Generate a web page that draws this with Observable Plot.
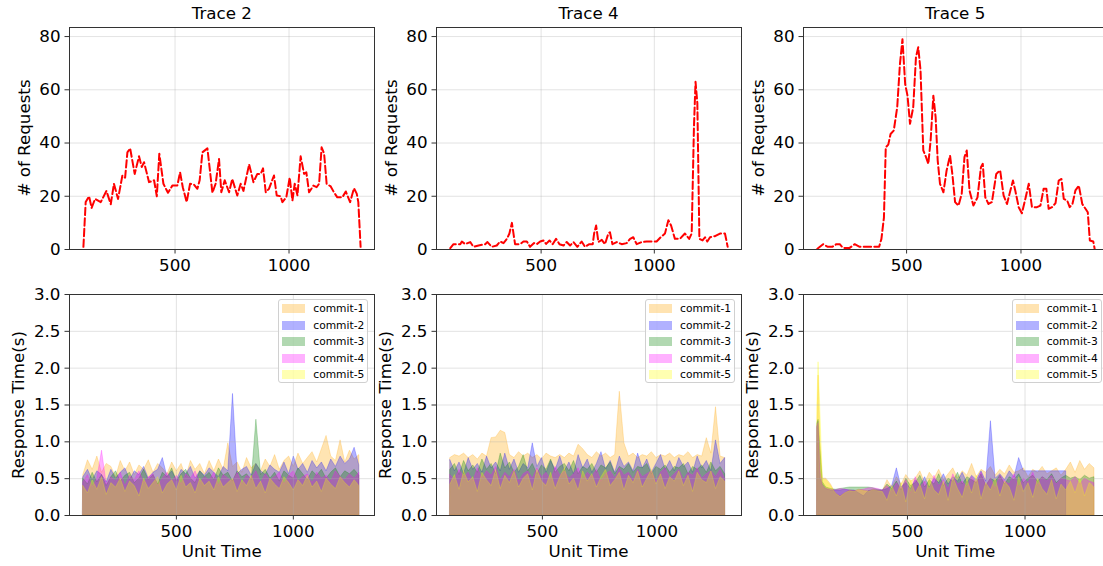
<!DOCTYPE html>
<html><head><meta charset="utf-8">
<script src="https://cdn.jsdelivr.net/npm/d3@7"></script>
<script src="https://cdn.jsdelivr.net/npm/@observablehq/plot@0.6"></script>
<style>
html,body{margin:0;padding:0;background:#fff;overflow:hidden;}
#root{position:relative;width:1103px;height:566px;overflow:hidden;font-family:"DejaVu Sans",sans-serif;color:#000;}
.title,.xlabel{position:absolute;width:240px;text-align:center;font-size:16.7px;line-height:16.7px;white-space:nowrap;}
.ylabel{position:absolute;font-size:16.7px;line-height:16.7px;white-space:nowrap;transform:translate(-50%,-50%) rotate(-90deg);}
.legend{position:absolute;width:90px;height:84px;background:rgba(255,255,255,0.8);border:1px solid #d0d0d0;border-radius:3px;box-sizing:border-box;font-size:10.7px;}
.legend .row{position:absolute;left:0;height:12px;line-height:12px;white-space:nowrap;}
.legend .sw{position:absolute;left:4px;top:2px;width:21px;height:7px;}
.legend .lb{position:absolute;left:34px;top:0;}
</style>
</head><body><div id="root"></div>
<script>
// ---------- data ----------
const traceTitles = ["Trace 2", "Trace 4", "Trace 5"];
const commitNames = ["commit-1", "commit-2", "commit-3", "commit-4", "commit-5"];
const commitColors = ["orange", "blue", "green", "magenta", "yellow"];
const requestTicks = [0, 20, 40, 60, 80];
const responseTicks = [0, 0.5, 1.0, 1.5, 2.0, 2.5, 3.0];
const timeTicks = [500, 1000];

// # of requests (top row)
const trace2X = [98,108,123,134,149,174,199,218,232,250,269,281,291,303,323,342,354,364,386,408,420,431,449,469,488,510,522,534,551,566,583,598,608,620,642,664,678,693,703,718,737,751,773,788,800,825,844,861,876,886,898,912,934,946,963,971,988,1003,1015,1025,1037,1051,1066,1076,1088,1107,1121,1132,1143,1154,1165,1183,1197,1212,1234,1249,1268,1285,1297,1304,1314];
const trace2Req = [1,17.8,20,15.6,19,17.8,22,17,24.7,19,27.8,27,36.5,38,28.4,35,31,32.8,25.3,26,20,36,24.7,21.3,24,24,29,23.4,17.8,24.7,24.4,22.8,26,36.5,38,21.3,24.7,34,21.5,26,21.5,26.5,20.3,24.7,22,32,25.3,28.4,28.4,30.5,21.5,22.8,27.8,20.3,20,17.8,19.6,27,18.4,24.7,20.3,35,28.4,29,21.5,24,23.4,24.7,38.4,36,24.7,23.7,21.5,19.6,19.6,21.8,17.8,23,21,17.8,1];

const trace4X = [99,113,143,150,165,187,201,224,253,263,282,304,319,334,349,360,371,385,407,422,437,451,469,481,496,510,522,537,551,566,581,599,613,628,643,660,679,694,713,728,734,743,753,768,782,797,804,815,834,856,878,893,907,922,944,966,988,1010,1028,1047,1062,1074,1091,1113,1135,1154,1165,1175,1182,1190,1199,1213,1224,1234,1246,1268,1290,1312,1324];
const trace4Req = [0.5,2,2,3,2,2.8,1,1.5,2,2.8,1,1.5,3,2.4,4,6,10,2,2,3,3,1,2.4,2,3,3.4,2.1,3.4,2,4,2,1.5,2.8,1.5,2.8,1,3,1,2,2,6,9,2.8,3.6,2,6,6.5,2,2.8,2,2.4,4,4.6,2,2.8,3,3,3,4.6,6,11,9,4,4,6,4,6,46,63,55,4,3.4,4.6,3,4.6,5,6,6,1];

const trace5X = [110,135,156,175,193,208,222,251,273,295,325,354,380,390,401,409,420,430,444,459,471,482,494,504,515,529,541,551,561,573,585,595,605,617,627,636,646,661,675,690,700,712,727,741,753,763,775,792,810,825,833,844,858,873,892,909,924,939,950,965,975,990,1004,1019,1034,1048,1070,1085,1099,1111,1121,1136,1151,1165,1177,1187,1202,1213,1225,1238,1253,1268,1282,1292,1301,1316,1322];
const trace5Req = [0.3,2,1,1,2,2,0.6,0.6,2,1,1,1,1,4,12,38.4,39.4,43.4,44.7,53.4,69.7,79,62,57.8,47.2,53.4,72.2,76,67.2,37.2,34.7,32.2,40.9,57.8,49.7,33.4,24.7,21.5,29.7,35.3,28.4,17.8,16.5,20.9,34.7,37.2,22.2,16.5,19.6,30.9,32.2,19.6,17.1,17.8,28.4,29.7,20.3,17.1,20.9,25.9,22.2,15.9,13.6,19,24.7,15.9,15.9,16.5,22.8,22.8,15.3,15.9,17.4,25.9,26.5,19,18.4,15.9,17.1,22.2,24,17.1,15.3,14,3.4,3,0.3];

// response time (bottom row), Trace 2
const rt2X = [102,122,142,162,182,202,222,242,262,282,302,322,342,362,382,402,422,442,462,482,502,522,542,562,582,602,622,642,662,682,702,722,742,762,782,802,822,842,862,882,902,922,942,962,982,1002,1022,1042,1062,1082,1102,1122,1142,1162,1182,1202,1222,1242,1262,1282];
const rt2C1 = [0.55,0.75,0.62,0.80,0.58,0.70,0.66,0.52,0.74,0.60,0.72,0.55,0.68,0.62,0.75,0.58,0.70,0.64,0.56,0.72,0.60,0.70,0.52,0.74,0.62,0.70,0.56,0.74,0.60,0.76,0.62,0.98,0.66,0.72,0.58,0.78,0.64,0.70,0.60,0.76,0.66,0.82,0.62,0.74,0.80,0.66,0.84,0.70,0.78,0.86,0.72,0.90,1.08,0.80,0.74,1.02,0.72,0.88,0.76,0.82];
const rt2C2 = [0.52,0.62,0.48,0.60,0.55,0.45,0.62,0.50,0.58,0.64,0.48,0.60,0.55,0.66,0.50,0.58,0.62,0.78,0.52,0.60,0.48,0.62,0.56,0.66,0.50,0.60,0.54,0.64,0.58,0.52,0.66,0.60,1.65,0.56,0.62,0.66,0.54,0.70,0.60,0.55,0.68,0.62,0.58,0.72,0.56,0.80,0.62,0.70,0.58,0.74,0.64,0.72,0.60,0.76,0.66,0.80,0.70,0.76,0.92,0.68];
const rt2C3 = [0.50,0.42,0.58,0.45,0.55,0.40,0.52,0.60,0.46,0.54,0.58,0.44,0.50,0.62,0.48,0.55,0.42,0.58,0.52,0.64,0.46,0.56,0.62,0.50,0.44,0.60,0.52,0.58,0.48,0.64,0.54,0.58,0.46,0.60,0.52,0.56,0.48,1.30,0.55,0.62,0.50,0.58,0.46,0.60,0.54,0.50,0.64,0.56,0.48,0.60,0.54,0.62,0.50,0.58,0.64,0.52,0.60,0.56,0.62,0.54];
const rt2C4 = [0.45,0.55,0.38,0.50,0.88,0.42,0.52,0.46,0.58,0.40,0.54,0.48,0.60,0.44,0.52,0.56,0.40,0.50,0.58,0.46,0.54,0.42,0.56,0.50,0.60,0.44,0.52,0.48,0.58,0.40,0.55,0.50,0.46,0.58,0.42,0.54,0.50,0.60,0.44,0.56,0.48,0.52,0.58,0.42,0.54,0.60,0.46,0.52,0.56,0.44,0.58,0.50,0.54,0.46,0.60,0.52,0.48,0.56,0.50,0.58];
const rt2C5 = [0.40,0.30,0.48,0.35,0.52,0.28,0.44,0.38,0.50,0.32,0.46,0.40,0.26,0.50,0.36,0.44,0.52,0.30,0.42,0.48,0.34,0.54,0.38,0.44,0.30,0.50,0.40,0.46,0.34,0.52,0.38,0.44,0.50,0.32,0.48,0.40,0.54,0.36,0.46,0.30,0.50,0.42,0.36,0.52,0.44,0.34,0.48,0.40,0.54,0.38,0.46,0.32,0.50,0.42,0.36,0.52,0.44,0.38,0.48,0.40];

// response time, Trace 4
const rt4X = [98,118,138,158,178,198,218,238,258,278,298,318,338,358,378,398,418,438,458,478,498,518,538,558,578,598,618,638,658,678,698,718,738,758,778,798,818,838,858,878,898,918,938,958,978,998,1018,1038,1058,1078,1098,1118,1138,1158,1178,1198,1218,1238,1258,1278,1298];
const rt4C1 = [0.78,0.82,0.80,0.84,0.78,0.82,0.76,0.84,0.80,1.05,1.06,1.15,1.12,0.82,0.78,0.86,0.80,0.84,0.78,0.82,0.76,0.84,0.80,0.78,0.82,0.78,0.84,0.80,0.96,0.90,0.82,0.78,0.86,0.80,0.84,0.78,0.82,1.68,0.98,0.80,0.84,0.78,0.82,0.80,0.86,0.78,0.82,0.80,0.84,0.78,0.82,0.80,0.86,0.78,0.82,0.80,1.05,0.84,1.47,0.80,0.78];
const rt4C2 = [0.75,0.60,0.72,0.56,0.78,0.62,0.70,0.58,0.80,0.64,0.72,0.60,0.84,0.62,0.76,0.58,0.70,0.64,0.98,0.66,0.78,0.58,0.74,0.62,0.80,0.60,0.72,0.56,0.82,0.64,0.76,0.58,0.70,0.86,0.62,0.74,0.58,0.80,0.66,0.72,0.60,0.84,0.64,0.76,0.58,0.70,0.82,0.62,0.74,0.60,0.78,0.66,0.72,0.58,0.80,0.64,0.74,0.60,1.02,0.70,0.78];
const rt4C3 = [0.62,0.70,0.55,0.74,0.60,0.68,0.58,0.76,0.62,0.70,0.56,0.84,0.64,0.72,0.58,0.66,0.82,0.60,0.70,0.56,0.68,0.62,0.76,0.58,0.66,0.70,0.60,0.74,0.56,0.66,0.62,0.70,0.58,0.68,0.64,0.72,0.56,0.66,0.62,0.70,0.58,0.66,0.64,0.70,0.56,0.66,0.62,0.68,0.58,0.66,0.64,0.70,0.56,0.66,0.62,0.68,0.58,0.72,0.60,0.66,0.56];
const rt4C4 = [0.55,0.48,0.62,0.52,0.58,0.46,0.64,0.50,0.60,0.54,0.66,0.48,0.58,0.52,0.62,0.46,0.56,0.60,0.50,0.64,0.52,0.58,0.48,0.66,0.54,0.60,0.50,0.56,0.64,0.48,0.58,0.52,0.62,0.46,0.56,0.60,0.50,0.64,0.54,0.58,0.48,0.62,0.52,0.56,0.60,0.46,0.58,0.64,0.50,0.56,0.62,0.48,0.58,0.54,0.64,0.50,0.56,0.60,0.52,0.62,0.50];
const rt4C5 = [0.42,0.55,0.35,0.60,0.45,0.52,0.32,0.58,0.48,0.40,0.62,0.36,0.54,0.44,0.60,0.38,0.50,0.56,0.34,0.62,0.46,0.40,0.58,0.36,0.52,0.64,0.42,0.50,0.34,0.60,0.46,0.56,0.38,0.52,0.62,0.40,0.48,0.58,0.34,0.54,0.44,0.60,0.38,0.50,0.62,0.42,0.56,0.36,0.52,0.46,0.60,0.40,0.54,0.32,0.58,0.48,0.44,0.60,0.36,0.52,0.46];

// response time, Trace 5
const rt5X = [117,122,130,140,155,175,195,215,235,255,275,295,315,335,355,375,395,415,435,455,475,495,515,535,555,575,595,615,635,655,675,695,715,735,755,775,795,815,835,855,875,895,915,935,955,975,995,1015,1035,1055,1075,1095,1115,1135,1155,1175,1195,1215,1235,1255,1275,1295];
const rt5C1 = [1.2,1.9,1.0,0.5,0.5,0.42,0.30,0.26,0.30,0.34,0.33,0.35,0.34,0.33,0.35,0.34,0.33,0.48,0.38,0.52,0.42,0.55,0.46,0.50,0.60,0.44,0.58,0.50,0.62,0.48,0.56,0.64,0.50,0.60,0.54,0.70,0.52,0.62,0.58,0.66,0.54,0.62,0.56,0.68,0.58,0.60,0.64,0.52,0.62,0.58,0.66,0.56,0.60,0.64,0.54,0.62,0.72,0.58,0.74,0.62,0.70,0.64];
const rt5C2 = [1.2,1.28,0.5,0.42,0.36,0.34,0.34,0.34,0.35,0.34,0.34,0.30,0.26,0.33,0.34,0.34,0.34,0.36,0.40,0.64,0.38,0.44,0.36,0.48,0.40,0.52,0.38,0.50,0.44,0.56,0.42,0.52,0.46,0.58,0.44,0.54,0.48,0.60,0.46,1.28,0.50,0.56,0.48,0.60,0.52,0.78,0.60,0.60,0.60,0.60,0.60,0.60,0.60,0.60,0.60,0.60,null,null,null,null,null,null];
const rt5C3 = [1.25,1.3,0.9,0.45,0.38,0.36,0.35,0.36,0.37,0.38,0.38,0.38,0.38,0.38,0.37,0.35,0.34,0.42,0.36,0.46,0.34,0.50,0.40,0.44,0.54,0.38,0.48,0.42,0.56,0.40,0.50,0.46,0.58,0.42,0.52,0.48,0.44,0.56,0.40,0.50,0.46,0.54,0.42,0.52,0.48,0.56,0.44,0.50,0.54,0.46,0.52,0.48,0.56,0.44,0.50,0.54,0.50,0.52,0.48,0.54,0.50,0.52];
const rt5C4 = [1.2,1.25,0.6,0.40,0.36,0.35,0.34,0.36,0.35,0.34,0.33,0.34,0.35,0.37,0.37,0.36,0.34,0.40,0.32,0.44,0.36,0.48,0.30,0.52,0.38,0.46,0.34,0.54,0.40,0.48,0.36,0.56,0.42,0.46,0.38,0.52,0.44,0.58,0.40,0.50,0.36,0.54,0.46,0.42,0.56,0.38,0.50,0.44,0.58,0.40,0.52,0.46,0.54,0.42,0.50,0.48,0.46,0.52,0.42,0.50,0.46,0.44];
const rt5C5 = [1.5,2.08,1.4,0.5,0.48,0.40,0.30,0.25,0.30,0.33,0.32,0.34,0.33,0.32,0.34,0.33,0.32,0.20,0.40,0.26,0.44,0.18,0.48,0.30,0.42,0.22,0.50,0.34,0.28,0.46,0.20,0.52,0.36,0.24,0.48,0.30,0.54,0.22,0.44,0.34,0.50,0.26,0.46,0.38,0.20,0.52,0.32,0.44,0.24,0.50,0.36,0.28,0.48,0.22,0.42,0.34,0.46,0.30,0.50,0.26,0.44,0.38];

// ---------- layout ----------
const root = document.getElementById("root");
const FRAME_LEFT = [69.3, 436, 802.7];
const FRAME_W = 305;
const ROWS = [{top: 27, h: 222}, {top: 294, h: 221}];
const M = {l: 70, r: 12, t: 10, b: 40};
const gridStyle = {stroke: "#b0b0b0", strokeOpacity: 0.35, strokeWidth: 1};

function addPanel(col, row, xDomain, yDomain, yTicks, yFmt, dataMarks, gridAbove) {
  const R = ROWS[row];
  const grids = [Plot.gridY(yTicks, gridStyle), Plot.gridX(timeTicks, gridStyle)];
  const svg = Plot.plot({
    width: FRAME_W + M.l + M.r,
    height: R.h + M.t + M.b,
    marginLeft: M.l, marginRight: M.r, marginTop: M.t, marginBottom: M.b,
    x: {type: "linear", domain: xDomain},
    y: {type: "linear", domain: yDomain},
    style: {fontFamily: "DejaVu Sans, sans-serif", fontSize: "16.7px", color: "#000", background: "transparent", overflow: "visible"},
    marks: [
      ...(gridAbove ? [] : grids),
      ...dataMarks,
      ...(gridAbove ? grids : []),
      Plot.frame({stroke: "#333", strokeWidth: 1}),
      Plot.axisX(timeTicks, {tickSize: 4.5, tickPadding: 5, label: null, stroke: "#333", tickFormat: d3.format("d")}),
      Plot.axisY(yTicks, {tickSize: 4.5, tickPadding: 4.5, label: null, stroke: "#333", tickFormat: yFmt})
    ]
  });
  svg.style.position = "absolute";
  svg.style.left = (FRAME_LEFT[col] - M.l) + "px";
  svg.style.top = (R.top - M.t) + "px";
  root.appendChild(svg);
}

function addText(cls, text, left, top) {
  const d = document.createElement("div");
  d.className = cls; d.textContent = text;
  d.style.left = left + "px"; d.style.top = top + "px";
  root.appendChild(d);
}

function addLegend(col) {
  const box = document.createElement("div");
  box.className = "legend";
  const right = FRAME_LEFT[col] + FRAME_W;
  box.style.left = (right - 96) + "px";
  box.style.top = (ROWS[1].top + 5) + "px";
  commitNames.forEach((name, k) => {
    const r = document.createElement("div");
    r.className = "row";
    r.style.top = (3 + k * 16.6) + "px";
    const sw = document.createElement("div");
    sw.className = "sw";
    sw.style.background = commitColors[k];
    sw.style.opacity = 0.3;
    sw.style.outline = "1px solid " + commitColors[k];
    const lb = document.createElement("div");
    lb.className = "lb"; lb.textContent = name;
    r.appendChild(sw); r.appendChild(lb);
    box.appendChild(r);
  });
  root.appendChild(box);
}

// ---------- top row ----------
const topData = [[trace2X, trace2Req], [trace4X, trace4Req], [trace5X, trace5Req]];
const topDomains = [[37, 1375], [38, 1385], [49.4, 1382.6]];
topData.forEach(([xs, ys], c) => {
  const rows = xs.map((x, i) => ({x, y: ys[i]}));
  addPanel(c, 0, topDomains[c], [0, 83.4], requestTicks, d3.format("d"), [
    Plot.line(rows, {x: "x", y: "y", stroke: "red", strokeWidth: 2, strokeDasharray: "7.4,3.2"})
  ], false);
  addText("title", traceTitles[c], FRAME_LEFT[c] + FRAME_W / 2 - 120, 5);
  const yl = document.createElement("div");
  yl.className = "ylabel"; yl.textContent = "# of Requests";
  yl.style.left = (FRAME_LEFT[c] - 45) + "px";
  yl.style.top = (ROWS[0].top + ROWS[0].h / 2) + "px";
  root.appendChild(yl);
});

// ---------- bottom row ----------
const botData = [
  [rt2X, [rt2C1, rt2C2, rt2C3, rt2C4, rt2C5]],
  [rt4X, [rt4C1, rt4C2, rt4C3, rt4C4, rt4C5]],
  [rt5X, [rt5C1, rt5C2, rt5C3, rt5C4, rt5C5]]
];
const botDomains = [[43, 1347], [37.5, 1369.5], [58, 1355]];
botData.forEach(([xs, series], c) => {
  const marks = series.map((vals, k) => {
    const rows = xs.map((x, i) => ({x, y: vals[i]}));
    return Plot.areaY(rows, {x: "x", y1: 0, y2: "y", fill: commitColors[k], fillOpacity: 0.3,
      stroke: commitColors[k], strokeOpacity: 0.3, strokeWidth: 0.8});
  });
  addPanel(c, 1, botDomains[c], [0, 3], responseTicks, d3.format(".1f"), marks, true);
  addLegend(c);
  addText("xlabel", "Unit Time", FRAME_LEFT[c] + FRAME_W / 2 - 120, 543);
  const yl = document.createElement("div");
  yl.className = "ylabel"; yl.textContent = "Response Time(s)";
  yl.style.left = (FRAME_LEFT[c] - 51) + "px";
  yl.style.top = (ROWS[1].top + ROWS[1].h / 2) + "px";
  root.appendChild(yl);
});
</script>
</body></html>
